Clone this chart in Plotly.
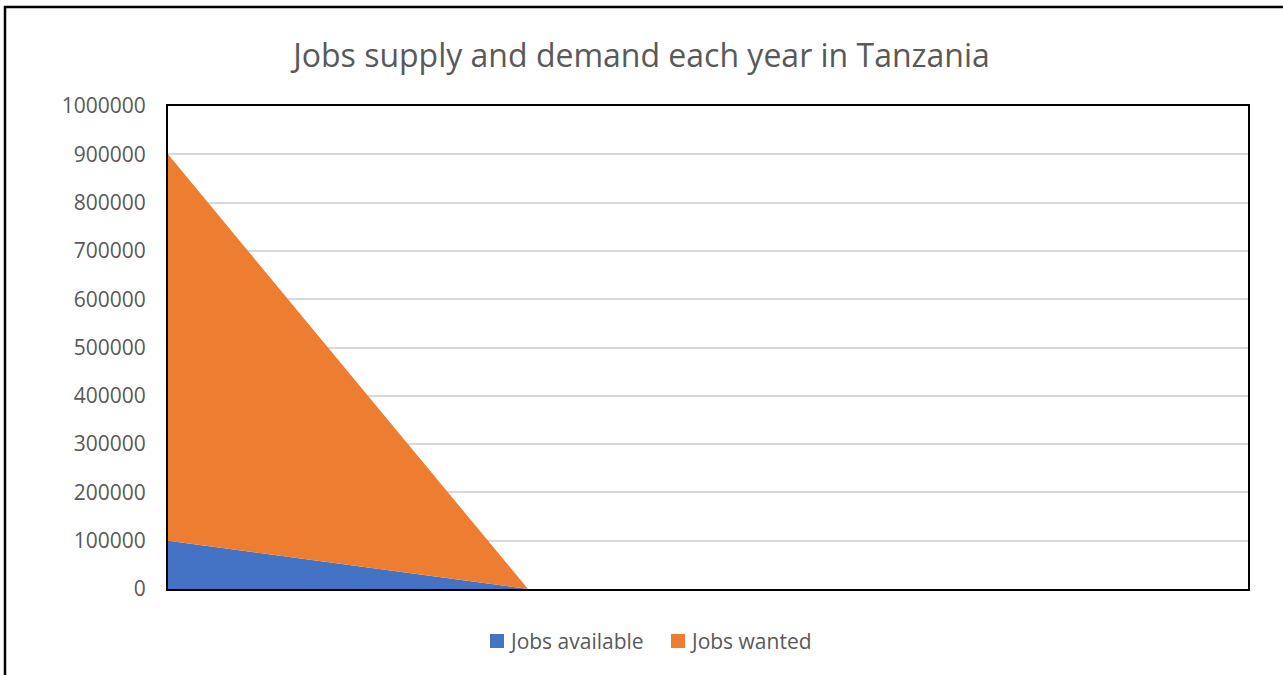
import plotly.graph_objects as go

BLUE = "#4472C4"
ORANGE = "#ED7D31"
TEXT = "#595959"
GRID = "#D9D9D9"

# four periods on the x axis, no labels shown in the source chart
periods = ["1", "2", "3", "4"]
jobs_available = [100000, 0, 0, 0]
jobs_wanted = [800000, 0, 0, 0]
y_ticks = list(range(0, 1000001, 100000))
series_names = ["Jobs available", "Jobs wanted"]

W, H = 1283, 675
L, R, T, B = 168, 35, 106, 86
pw, ph = W - L - R, H - T - B


def px(x):
    return (x - L) / pw


def py(y):
    return 1 - (y - T) / ph


fig = go.Figure()
fig.add_trace(go.Scatter(
    x=periods, y=jobs_available, name=series_names[0], stackgroup="one",
    mode="none", fillcolor=BLUE, showlegend=False,
))
fig.add_trace(go.Scatter(
    x=periods, y=jobs_wanted, name=series_names[1], stackgroup="one",
    mode="none", fillcolor=ORANGE, showlegend=False,
))

# legend drawn by hand: square key, tight gap to the label (Excel style)
for name, col, x_key in zip(series_names, [BLUE, ORANGE], [490, 671]):
    fig.add_shape(type="rect", xref="paper", yref="paper",
                  x0=px(x_key), x1=px(x_key + 14), y0=py(648), y1=py(634),
                  fillcolor=col, line_width=0)
    fig.add_annotation(text=name, xref="paper", yref="paper", x=px(x_key + 17), y=py(641),
                       xanchor="left", yanchor="middle", showarrow=False,
                       font=dict(size=21, color=TEXT))

fig.update_layout(
    width=W, height=H,
    margin=dict(l=L, r=R, t=T, b=B),
    paper_bgcolor="white",
    plot_bgcolor="white",
    font=dict(family="Open Sans, sans-serif", color=TEXT, size=21),
    title=dict(text="Jobs supply and demand each year in Tanzania", x=0.5, xanchor="center",
               y=1 - 56 / H, yanchor="middle", font=dict(size=32, color=TEXT)),
    showlegend=False,
)
fig.update_xaxes(showticklabels=False, showgrid=False, zeroline=False, range=[0, 3],
                 showline=True, linecolor="black", linewidth=2, mirror=True, ticks="")
fig.update_yaxes(range=[0, 1000000], tickvals=y_ticks, tickformat="d", gridcolor=GRID,
                 gridwidth=1.5, zeroline=False, showline=True, linecolor="black", linewidth=2,
                 mirror=True, ticks="", ticklabelstandoff=16)

# outer frame around the whole chart
fig.add_shape(type="rect", xref="paper", yref="paper",
              x0=px(5), x1=px(W + 10), y0=py(H + 10), y1=py(7),
              line=dict(color="black", width=2.5), layer="above")

fig.write_html("out.html", config={"displayModeBar": False},
               post_script="document.body.style.margin='0px';")
